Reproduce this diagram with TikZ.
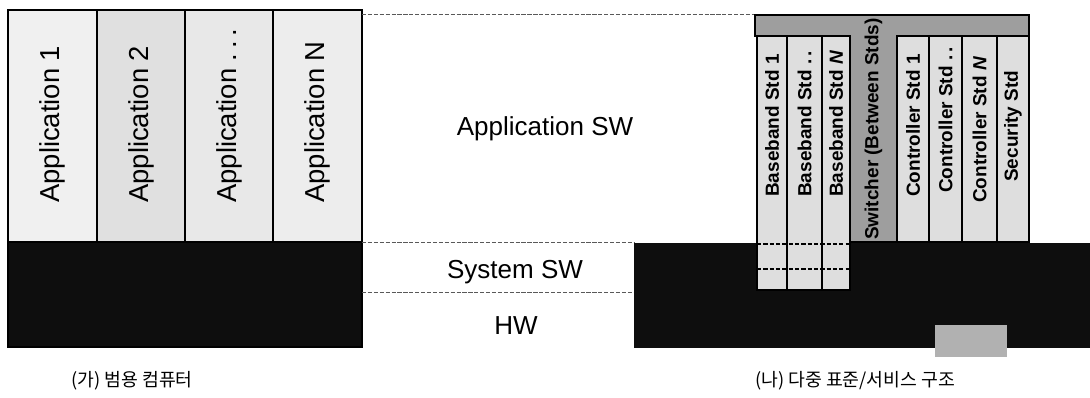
\documentclass[tikz,border=0pt]{standalone}
\usepackage{fontspec}
\setmainfont{Liberation Sans}
\newfontfamily\krfont{Noto Sans CJK KR}
\usetikzlibrary{positioning,calc}
\definecolor{hwdark}{RGB}{14,14,14}
\definecolor{stdgray}{RGB}{222,222,222}
\definecolor{swgray}{RGB}{158,158,158}
\tikzset{appcol/.style={draw=black,line width=.9pt},
  stdcol/.style={draw=black,line width=1.2pt,fill=stdgray},
  hwblock/.style={fill=hwdark},
  guide/.style={draw=gray!70!black,line width=.5pt,dash pattern=on 3pt off 1.2pt},
  applabel/.style={rotate=90,anchor=west,inner sep=0pt,font=\fontsize{19.5}{22}\selectfont},
  stdlabel/.style={rotate=90,anchor=west,inner sep=0pt,font=\fontsize{13.5}{15}\selectfont\bfseries},
  layerlabel/.style={font=\fontsize{18.5}{22}\selectfont},
  caption/.style={font=\krfont\fontsize{13}{15}\selectfont}}

\begin{document}
\begin{tikzpicture}[x=0.025cm,y=-0.025cm]
\useasboundingbox (0,0) rectangle (1090,398);
% (a) general-purpose computer
\fill[hwblock] (8,242) rectangle (362,347);
\foreach \i/\xa/\xb/\shade/\txt in {1/8/97/12/{Application 1},2/97/185/24/{Application 2},3/185/273/18/{Application .\,.\,.},4/273/362/14/{Application N}}{
  \draw[appcol,fill=gray!\shade] (\xa,10) rectangle (\xb,242);
  \node[applabel] (app\i) at ({(\xa+\xb)/2},203) {\txt};
}
\draw[line width=1pt] (8,10) rectangle (362,347);
% layer guides
\draw[guide] (362,14) -- (755,14);
\draw[guide] (362,242) -- (634,242);
\draw[guide] (362,292) -- (634,292);
\node[layerlabel] (appsw) at (545,129) {Application SW};
\node[layerlabel] (syssw) at (515,272) {System SW};
\node[layerlabel] (hw) at (516,326) {HW};
% (b) multi-standard / service structure
\fill[hwblock] (634,243) rectangle (1090,348);
\fill[swgray!80] (935,325) rectangle (1007,357);
\draw[line width=1.2pt,fill=swgray] (755,15) -- (1029,15) -- (1029,36) -- (897,36) -- (897,242)
  -- (850,242) -- (850,36) -- (755,36) -- cycle;
\node[stdlabel] (switcher) at (873.5,240) {Switcher (Between Stds)};
\foreach \i/\xa/\xb/\txt in {1/757/787/{Baseband Std 1},2/787/822/{Baseband Std .\,.},3/822/850/{Baseband Std \textit{N}}}{
  \draw[stdcol] (\xa,36) rectangle (\xb,290);
  \node[stdlabel] (base\i) at ({(\xa+\xb)/2},197) {\txt};
}
\draw[line width=1pt,dash pattern=on 3pt off 1.5pt] (757,244) -- (850,244);
\draw[line width=1pt,dash pattern=on 3pt off 1.5pt] (757,269) -- (850,269);
\foreach \i/\xa/\xb/\yb/\txt in {1/897/929/197/{Controller Std 1},2/929/962/193/{Controller Std .\,.},3/962/997/203/{Controller Std \textit{N}},4/997/1029/182/{Security Std}}{
  \draw[stdcol] (\xa,36) rectangle (\xb,242);
  \node[stdlabel] (ctrl\i) at ({(\xa+\xb)/2},\yb) {\txt};
}
% captions
\node[caption] (capa) at (132,381) {(가) 범용 컴퓨터};
\node[caption] (capb) at (855,381) {(나) 다중 표준/서비스 구조};
\end{tikzpicture}
\end{document}
